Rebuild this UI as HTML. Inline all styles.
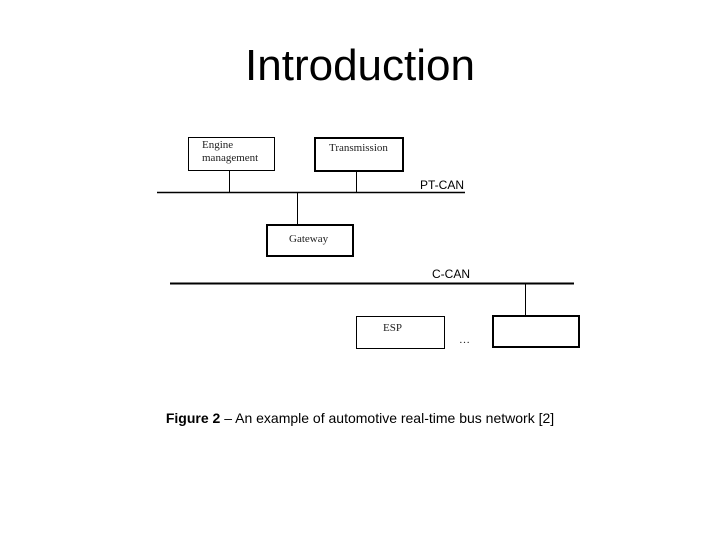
<!DOCTYPE html>
<html><head><style>
body{margin:0;width:720px;height:540px;background:#fff;position:relative;overflow:hidden;font-family:"Liberation Sans",sans-serif}
.t{position:absolute;white-space:nowrap}
.s{font-family:"Liberation Serif",serif;font-size:11px;color:#222}
</style></head><body>
<div class="t" style="left:0;width:720px;text-align:center;top:40px;font-size:44px;line-height:52px">Introduction</div>
<svg width="720" height="540" style="position:absolute;left:0;top:0">
<g stroke="#000" fill="none">
<rect x="188.5" y="137.5" width="86" height="33" stroke-width="1"/>
<rect x="315" y="138" width="88" height="33" stroke-width="2"/>
<line x1="157" y1="192.5" x2="465" y2="192.5" stroke-width="1.5"/>
<line x1="229.5" y1="170" x2="229.5" y2="192"/>
<line x1="356.5" y1="171" x2="356.5" y2="192"/>
<line x1="297.5" y1="192" x2="297.5" y2="225"/>
<rect x="267" y="225" width="86" height="31" stroke-width="2"/>
<line x1="170" y1="283.5" x2="574" y2="283.5" stroke-width="2"/>
<line x1="525.5" y1="284" x2="525.5" y2="315"/>
<rect x="356.5" y="316.5" width="88" height="32" stroke-width="1"/>
<rect x="493" y="316" width="86" height="31" stroke-width="2"/>
</g>
</svg>
<div class="t s" style="left:202px;top:139px;line-height:13px">Engine<br>management</div>
<div class="t s" style="left:329px;top:142px">Transmission</div>
<div class="t s" style="left:289px;top:233px">Gateway</div>
<div class="t s" style="left:383px;top:322px">ESP</div>
<div class="t s" style="left:459px;top:334px">…</div>
<div class="t" style="left:420px;top:178px;font-size:12px">PT-CAN</div>
<div class="t" style="left:432px;top:267px;font-size:12px">C-CAN</div>
<div class="t" style="left:0;width:720px;text-align:center;top:410px;font-size:14px"><b>Figure 2</b> – An example of automotive real-time bus network [2]</div>
</body></html>
